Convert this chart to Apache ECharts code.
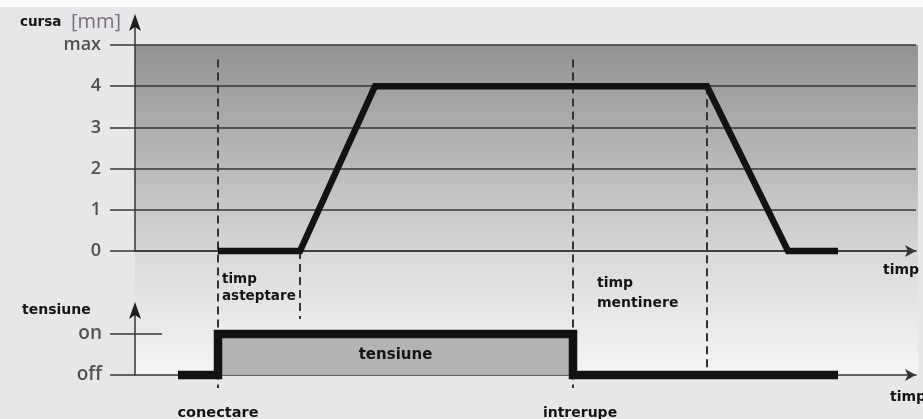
<!DOCTYPE html>
<html>
<head>
<meta charset="utf-8">
<script src="https://cdn.jsdelivr.net/npm/echarts@6/dist/echarts.min.js"></script>
<style>
  html, body { margin: 0; padding: 0; background: #e7e7e9; }
  #chart { width: 923px; height: 419px; }
</style>
</head>
<body>
<div id="chart"></div>
<script>
// Actuator stroke (mm) over time
const strokeTime = [8.3, 16.5, 24.0, 57.2, 65.3, 70.3];
const strokeMm   = [0, 0, 4, 4, 0, 0];
// Supply voltage state over time (0 = off, 1 = on)
const voltTime  = [4.3, 8.3, 8.3, 43.8, 43.8, 70.3];
const voltState = [0, 0, 1, 1, 0, 0];
// Tick labels
const strokeTickLabels = ['0', '1', '2', '3', '4', 'max'];
const voltTickLabels = ['off', 'on'];
// Event instants on the time axis
const tConnect = 8.3;
const tWaitEnd = 16.5;
const tInterrupt = 43.8;
const tHoldEnd = 57.2;
const timeMax = 78.1;

const chart = echarts.init(document.getElementById('chart'), null, { renderer: 'canvas' });

const ink = '#363636';
const tickFont = { fontFamily: 'Open Sans', fontWeight: 600, fontSize: 18, color: '#505050' };
const boldFont = 'DejaVu Sans';

const option = {
  backgroundColor: '#e7e7e9',
  animation: false,
  grid: [
    { left: 135, right: 7, top: 45, height: 206 },
    { left: 135, right: 7, top: 334, height: 41 }
  ],
  xAxis: [0, 1].map(i => ({
    type: 'value', gridIndex: i, min: 0, max: timeMax,
    axisLine: {
      show: true, onZero: false, symbol: ['none', 'arrow'], symbolSize: [9, 11],
      lineStyle: { color: ink, width: 1.5 }
    },
    axisTick: { show: false },
    axisLabel: { show: false },
    splitLine: { show: false }
  })),
  yAxis: [
    {
      type: 'value', gridIndex: 0, min: 0, max: 5, interval: 1,
      axisLine: { show: false },
      axisTick: { show: true, length: 25, lineStyle: { color: ink, width: 1.5 } },
      axisLabel: Object.assign({ margin: 34, formatter: v => strokeTickLabels[v] }, tickFont),
      splitLine: { show: true, lineStyle: { color: ink, width: 1.5 } }
    },
    {
      type: 'value', gridIndex: 1, min: 0, max: 1, interval: 1,
      axisLine: { show: false },
      axisTick: { show: true, length: 25, lineStyle: { color: ink, width: 1.5 } },
      axisLabel: Object.assign({ margin: 33, formatter: v => voltTickLabels[v] }, tickFont, { fontSize: 19 }),
      splitLine: { show: false }
    }
  ],
  series: [
    {
      name: 'cursa', type: 'line', xAxisIndex: 0, yAxisIndex: 0,
      data: strokeTime.map((t, i) => [t, strokeMm[i]]),
      showSymbol: false, clip: false,
      lineStyle: { color: '#121212', width: 6.5, join: 'miter', cap: 'butt' },
      z: 5
    },
    {
      name: 'tensiune', type: 'line', xAxisIndex: 1, yAxisIndex: 1,
      data: voltTime.map((t, i) => [t, voltState[i]]),
      showSymbol: false, clip: false,
      lineStyle: { color: '#121212', width: 8.5, join: 'miter', cap: 'butt' },
      areaStyle: { color: '#b3b3b3', opacity: 1, origin: 'start' },
      z: 5
    }
  ]
};
chart.setOption(option);

// Helpers to place decorations relative to the axes
const p0 = (x, y) => chart.convertToPixel({ gridIndex: 0 }, [x, y]);
const p1 = (x, y) => chart.convertToPixel({ gridIndex: 1 }, [x, y]);

const axisX = p0(0, 0)[0];
const rightX = p0(timeMax, 0)[0];
const yMaxTop = p0(0, 5)[1];
const yZeroTop = p0(0, 0)[1];
const yOn = p1(0, 1)[1];
const yOff = p1(0, 0)[1];

function arrowUp(x, tipY) {
  return {
    type: 'polygon', z: 20,
    shape: { points: [[x, tipY], [x - 6, tipY + 17], [x, tipY + 13], [x + 6, tipY + 17]] },
    style: { fill: '#1e1e1e' }
  };
}
function vline(x, y1, y2, dashed, width) {
  return {
    type: 'line', z: dashed ? 4 : 20,
    shape: { x1: x, y1: y1, x2: x, y2: y2 },
    style: { stroke: dashed ? '#333' : ink, lineWidth: width || 1.5, lineDash: dashed ? [8, 5] : null }
  };
}
function label(text, x, y, opts) {
  return {
    type: 'text', z: 30, x: x, y: y,
    style: Object.assign({
      text: text, fill: '#141414', fontFamily: boldFont, fontWeight: 'bold',
      fontSize: 14, align: 'left', verticalAlign: 'middle'
    }, opts || {})
  };
}

const xConnect = p0(tConnect, 0)[0];
const xWaitEnd = p0(tWaitEnd, 0)[0];
const xInterrupt = p0(tInterrupt, 0)[0];
const xHoldEnd = p0(tHoldEnd, 0)[0];
const yDashTop = p0(0, 4.65)[1];
const yDashBottom = yOff + 13;

const elements = [
  // light strip along the top edge
  { type: 'rect', z: -10, shape: { x: 0, y: 0, width: 923, height: 7 }, style: { fill: '#fbfbfb' } },
  // shaded plotting panel of the stroke diagram
  {
    type: 'rect', z: -10,
    shape: { x: axisX, y: yMaxTop, width: rightX + 2 - axisX, height: yZeroTop - yMaxTop },
    style: {
      fill: new echarts.graphic.LinearGradient(0, 0, 0, 1, [
        { offset: 0, color: '#929292' },
        { offset: 0.5, color: '#b4b4b4' },
        { offset: 1, color: '#d6d6d6' }
      ])
    }
  },
  // fading panel under the stroke diagram
  {
    type: 'rect', z: -10,
    shape: { x: axisX, y: yZeroTop, width: rightX + 2 - axisX, height: yOff - yZeroTop },
    style: {
      fill: new echarts.graphic.LinearGradient(0, 0, 0, 1, [
        { offset: 0, color: '#d9d9d9' },
        { offset: 1, color: '#f5f5f5' }
      ])
    }
  },
  // vertical axes with arrow heads
  vline(axisX, yZeroTop, yMaxTop - 20),
  arrowUp(axisX, yMaxTop - 31),
  vline(axisX, yOff, yOn - 22),
  arrowUp(axisX, yOn - 32),
  // tick of the "on" level crossing the axis
  { type: 'line', z: 20, shape: { x1: axisX, y1: yOn, x2: axisX + 27, y2: yOn }, style: { stroke: ink, lineWidth: 1.5 } },
  // event markers
  vline(xConnect, yDashTop, yDashBottom, true, 2),
  vline(xInterrupt, yDashTop, yDashBottom, true, 2),
  vline(xWaitEnd, yZeroTop, yZeroTop + 68, true, 2),
  vline(xHoldEnd, p0(tHoldEnd, 4)[1], yOff - 3, true, 2),
  // axis titles
  label('cursa', 20, 22, { fontSize: 13.5 }),
  label('[mm]', 71, 22, { fontFamily: 'Open Sans', fontWeight: 'normal', fontSize: 20, fill: '#7b6c7d' }),
  label('tensiune', 22, 310, { fontSize: 14 }),
  label('timp', 883, 270, { fontSize: 14 }),
  label('timp', 890, 397, { fontSize: 14 }),
  // interval and event annotations
  label('timp', xConnect + 4, 279, { fontSize: 13.5 }),
  label('asteptare', xConnect + 4, 296, { fontSize: 13.5 }),
  label('timp', xInterrupt + 24, 283, { fontSize: 14 }),
  label('mentinere', xInterrupt + 24, 303, { fontSize: 14 }),
  label('tensiune', (xConnect + xInterrupt) / 2, (yOn + yOff) / 2 + 1, { fontSize: 15, align: 'center' }),
  label('conectare', xConnect, 413, { fontSize: 14.5, align: 'center' }),
  label('intrerupe', xInterrupt + 7, 413, { fontSize: 14, align: 'center' })
];

chart.setOption({ graphic: { elements: elements } });
</script>
</body>
</html>
